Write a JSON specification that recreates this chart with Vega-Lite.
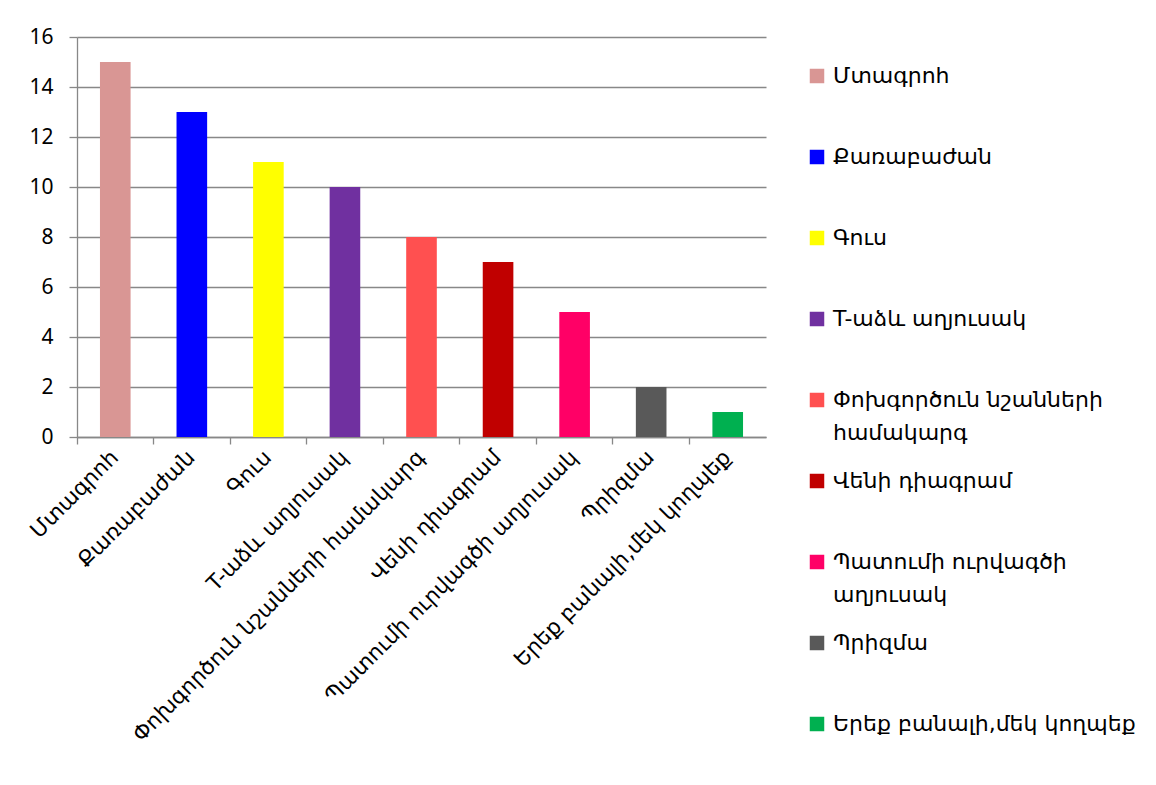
{
  "$schema": "https://vega.github.io/schema/vega-lite/v6.json",
  "width": 689,
  "height": 400,
  "autosize": "none",
  "padding": {"left": 77, "top": 37, "right": 390, "bottom": 348},
  "background": "white",
  "config": {
    "view": {"stroke": null},
    "font": "DejaVu Sans",
    "style": {"guide-label": {"lineHeight": 33}}
  },
  "data": {
    "values": [
      {"method": "Մտագրոհ", "count": 15},
      {"method": "Քառաբաժան", "count": 13},
      {"method": "Գուս", "count": 11},
      {"method": "T-աձև աղյուսակ", "count": 10},
      {"method": "Փոխգործուն նշանների համակարգ", "count": 8},
      {"method": "Վենի դիագրամ", "count": 7},
      {"method": "Պատումի ուրվագծի աղյուսակ", "count": 5},
      {"method": "Պրիզմա", "count": 2},
      {"method": "Երեք բանալի,մեկ կողպեք", "count": 1}
    ]
  },
  "mark": {"type": "bar", "width": {"band": 0.4}},
  "encoding": {
    "x": {
      "field": "method",
      "type": "nominal",
      "sort": null,
      "scale": {"paddingInner": 0, "paddingOuter": 0},
      "axis": {
        "title": null,
        "bandPosition": 0,
        "labelAngle": -45,
        "labelAlign": "right",
        "labelBaseline": "middle",
        "labelFont": "DejaVu Sans",
        "labelFontSize": 21.5,
        "labelColor": "black",
        "labelPadding": 10,
        "labelLimit": 500,
        "domainColor": "#888888",
        "domainWidth": 1.3,
        "tickColor": "#888888",
        "tickWidth": 1.3,
        "tickSize": 7,
        "grid": false
      }
    },
    "y": {
      "field": "count",
      "type": "quantitative",
      "scale": {"domain": [0, 16], "nice": false},
      "axis": {
        "title": null,
        "values": [0, 2, 4, 6, 8, 10, 12, 14, 16],
        "labelFont": "Noto Sans",
        "labelFontSize": 21,
        "labelColor": "black",
        "labelPadding": 16,
        "domainColor": "#888888",
        "domainWidth": 1.3,
        "tickColor": "#888888",
        "tickWidth": 1.3,
        "tickSize": 8,
        "gridColor": "#888888",
        "gridWidth": 1.3
      }
    },
    "color": {
      "field": "method",
      "type": "nominal",
      "sort": null,
      "scale": {
        "domain": ["Մտագրոհ", "Քառաբաժան", "Գուս", "T-աձև աղյուսակ", "Փոխգործուն նշանների համակարգ", "Վենի դիագրամ", "Պատումի ուրվագծի աղյուսակ", "Պրիզմա", "Երեք բանալի,մեկ կողպեք"],
        "range": ["#D99694", "#0000FF", "#FFFF00", "#7030A0", "#FF5050", "#C00000", "#FF0066", "#595959", "#00B050"]
      },
      "legend": {
        "title": null,
        "orient": "none",
        "legendX": 729,
        "legendY": 28,
        "symbolType": "square",
        "symbolSize": 210,
        "symbolStrokeWidth": 0,
        "labelFont": "DejaVu Sans",
        "labelFontSize": 22,
        "labelColor": "black",
        "labelOffset": 5,
        "labelLimit": 400,
        "rowPadding": 26,
        "labelExpr": "datum.label == 'Փոխգործուն նշանների համակարգ' ? ['Փոխգործուն նշանների', 'համակարգ'] : datum.label == 'Պատումի ուրվագծի աղյուսակ' ? ['Պատումի ուրվագծի', 'աղյուսակ'] : [datum.label, '']"
      }
    }
  }
}
